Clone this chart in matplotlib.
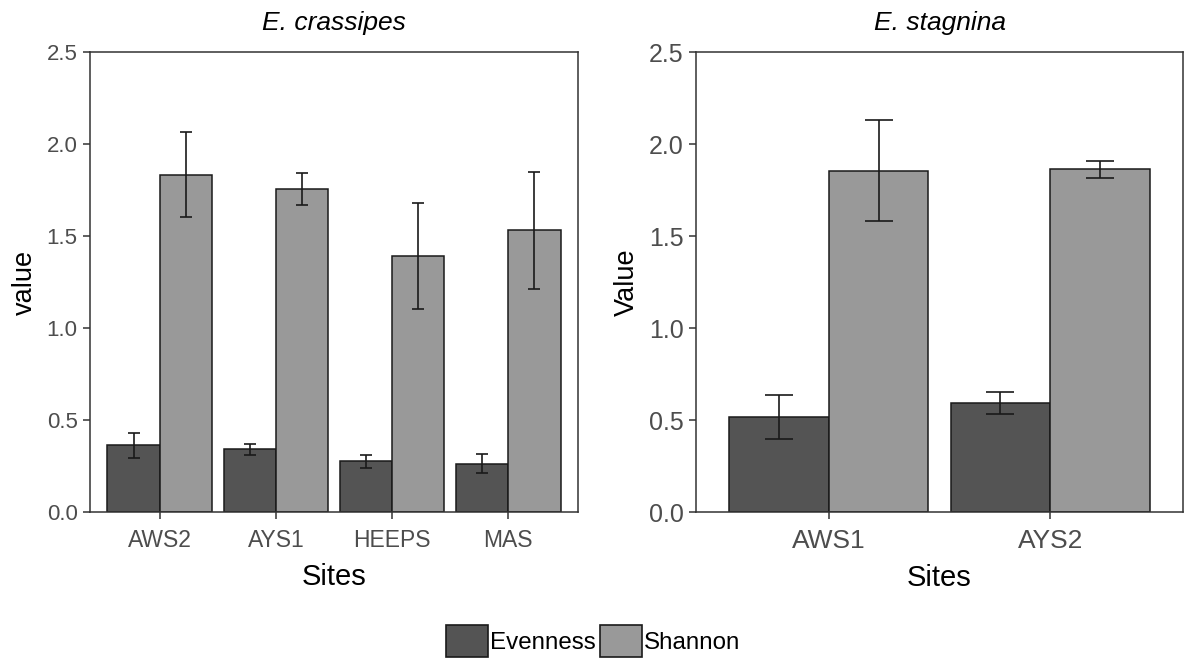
import matplotlib
matplotlib.use('Agg')
import matplotlib.pyplot as plt
from matplotlib.patches import Patch
import numpy as np

plt.rcParams['font.family'] = ['Liberation Sans', 'DejaVu Sans']

# E. crassipes sites
sites_ec = ['AWS2', 'AYS1', 'HEEPS', 'MAS']
even_ec = [0.362, 0.340, 0.275, 0.263]
even_ec_se = [0.070, 0.032, 0.036, 0.053]
shan_ec = [1.833, 1.755, 1.393, 1.530]
shan_ec_se = [0.230, 0.088, 0.288, 0.320]

# E. stagnina sites
sites_es = ['AWS1', 'AYS2']
even_es = [0.517, 0.590]
even_es_se = [0.120, 0.060]
shan_es = [1.855, 1.862]
shan_es_se = [0.276, 0.048]

evenness_col = '#545454'
shannon_col = '#999999'
edge_col = '#1a1a1a'
tick_col = '#4d4d4d'


def draw_panel(ax, sites, even, even_se, shan, shan_se, title, ylabel,
               xtick_size, ytick_size, capsize):
    x = np.arange(1, len(sites) + 1)
    w = 0.45
    ax.bar(x - w / 2, even, width=w, color=evenness_col, edgecolor=edge_col, linewidth=1.1, zorder=2)
    ax.bar(x + w / 2, shan, width=w, color=shannon_col, edgecolor=edge_col, linewidth=1.1, zorder=2)
    for xs, m, se in [(x - w / 2, even, even_se), (x + w / 2, shan, shan_se)]:
        ax.errorbar(xs, m, yerr=se, fmt='none', ecolor=edge_col, elinewidth=1.2,
                    capsize=capsize, capthick=1.2, zorder=3)
    ax.set_xlim(0.4, len(sites) + 0.6)
    ax.set_ylim(0, 2.5)
    ax.set_xticks(x)
    ax.set_xticklabels(sites, fontsize=xtick_size, color=tick_col)
    ax.set_yticks([0, 0.5, 1.0, 1.5, 2.0, 2.5])
    ax.set_yticklabels(['0.0', '0.5', '1.0', '1.5', '2.0', '2.5'], fontsize=ytick_size, color=tick_col)
    ax.tick_params(axis='both', direction='out', length=5, width=1.1, color='#333333', pad=4)
    ax.tick_params(axis='x', pad=7)
    for s in ax.spines.values():
        s.set_color('#333333')
        s.set_linewidth(1.1)
    ax.set_title(title, fontsize=19, style='italic', pad=16)
    ax.set_xlabel('Sites', fontsize=21, labelpad=8)
    ax.set_ylabel(ylabel, fontsize=19.5, labelpad=6)


fig = plt.figure(figsize=(11.86, 6.63), dpi=100)
H = 663
W = 1186
ax1 = fig.add_axes([90 / W, (H - 512) / H, 488 / W, 460 / H])
ax2 = fig.add_axes([696 / W, (H - 512) / H, 487 / W, 460 / H])

draw_panel(ax1, sites_ec, even_ec, even_ec_se, shan_ec, shan_ec_se,
           'E. crassipes', 'value', 16.5, 16, 4.3)
draw_panel(ax2, sites_es, even_es, even_es_se, shan_es, shan_es_se,
           'E. stagnina', 'Value', 19, 18, 10)

handles = [Patch(facecolor=evenness_col, edgecolor=edge_col, linewidth=1.2),
           Patch(facecolor=shannon_col, edgecolor=edge_col, linewidth=1.2)]
fig.legend(handles, ['Evenness', 'Shannon'], loc='center', bbox_to_anchor=(593 / W, (H - 641) / H),
           ncol=2, frameon=False, fontsize=17.4, handlelength=1.74, handleheight=1.65,
           handletextpad=0.08, columnspacing=0.2, borderpad=0, borderaxespad=0)

fig.savefig('out.png', dpi=100)
